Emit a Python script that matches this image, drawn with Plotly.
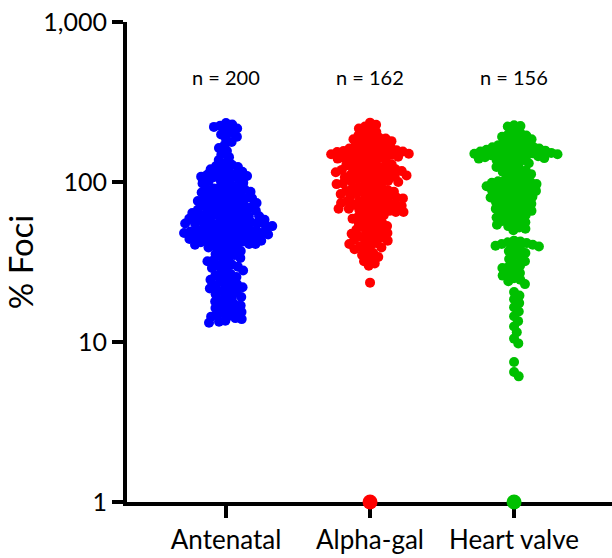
import math
import plotly.graph_objects as go

categories = ["Antenatal", "Alpha-gal", "Heart valve"]
counts_text = ["n = 200", "n = 162", "n = 156"]
colors = ["#0000FF", "#FF0000", "#00C000"]

antenatal = [
    234, 229, 225, 221, 216, 210, 204, 198, 192, 186, 178, 170, 163,
    156, 149, 143, 137, 132,
    128, 126, 124, 122, 120, 118, 116, 114, 112, 111, 110, 109, 108,
    107, 105, 104, 102, 101, 99, 98, 96, 95, 93, 92, 91, 90, 89, 88, 87, 86, 85, 84, 83, 82, 81,
    80, 79, 79, 78, 77, 76, 76, 75, 74, 74, 73, 72, 71, 71, 70, 69, 69, 68, 67, 67, 66, 66, 65, 64, 64,
    63, 63, 62, 62, 61, 61, 60, 60, 59, 59, 58, 58, 57, 57, 57, 56, 56, 55, 55, 55, 54, 54, 53, 53, 53,
    52, 52, 51, 51, 51, 50, 50, 50, 49, 49, 49, 48, 48, 48, 47.5,
    47, 47, 46.5, 46, 46, 45.5, 45, 45, 44.5, 44, 44, 43.5, 43, 43, 42.5, 42, 42, 41.5, 41, 41, 40.5, 40, 40, 39.5, 39,
    38, 37.5, 37, 36, 35.5, 35, 34, 33.5, 33, 32.5, 32, 31, 30.5, 30, 29.5, 29,
    28.5, 28, 27.2, 26.6, 26, 25.5, 25, 24.5, 24, 23.5, 23, 22.6, 22.3, 22,
    21.6, 21.2, 20.8, 20.3, 19.9, 19.5, 19.1, 18.7, 18.3, 17.9, 17.5, 17.2, 16.9, 16.6,
    16.3, 16, 15.7, 15.4, 15.1, 14.8, 14.6, 14.4, 14.1, 13.9, 13.6, 13.4, 13.2,
]

alpha_gal = [
    235, 228, 222, 216, 210, 205,
    200, 196, 192, 189, 187, 185, 182, 180, 178, 175, 172, 170, 168, 166,
    164, 162, 160, 159, 158, 157, 156, 155, 154, 153, 152, 151, 150, 149, 148, 147, 146, 145,
    144, 142, 141, 140, 138, 137, 135, 134,
    132, 130, 129, 127, 126, 125, 123, 122, 121, 120, 119, 118, 117, 116, 115, 114, 113, 112, 111, 110,
    109, 108, 107, 106, 105, 104, 103, 102, 101, 100, 99, 98, 97, 95, 94,
    93, 92, 91, 90, 89, 88, 87, 86, 86, 85, 84, 83, 82, 82, 81, 80, 79, 78, 77,
    76, 76, 75, 74, 74, 73, 72, 72, 71, 70, 70, 69, 68, 68, 67, 66, 66, 65, 65, 64,
    63, 62, 61, 60, 59, 58, 57, 56, 55, 54, 53, 52, 51, 50.5, 50, 49, 48,
    47.5, 47, 46, 45.5, 45, 44, 43.5, 43, 42, 41.5, 41, 40, 39.5, 39,
    38, 37, 36, 35, 34, 33, 32, 31, 30,
    23.5,
    1,
]

heart_valve = [
    226, 224, 222,
    205, 202, 198, 195, 192, 188, 185,
    180, 177, 175, 172, 170, 168, 166, 165, 163, 162, 160, 159, 158, 157, 156, 155, 154, 153, 152, 151,
    150, 149, 148, 147, 146, 145, 144, 143, 142, 141, 140, 139, 137, 135, 133, 131,
    128, 126, 124, 122, 120, 118, 116, 114, 112, 110, 108, 106, 104,
    102, 101, 100, 99, 98, 97, 96, 95, 94, 93, 92, 91, 90, 89, 88, 87, 86, 85, 84, 83, 82, 81, 80, 79, 78,
    77, 76, 75, 74, 73, 72, 71, 70, 69, 68, 67, 66, 65, 64, 63, 62, 61, 60, 59, 58, 57, 56, 55, 54, 53, 52, 51, 50,
    43, 42.5, 42, 41.5, 41, 40.5, 40, 39.5, 39, 38,
    37, 36, 35, 34, 33, 32, 31, 30, 29.5, 29, 28, 27, 26.5, 26, 25, 24.5, 24, 23,
    20.5, 19.5, 18.5, 17.5, 16.5, 15.5, 14.5, 13.5, 12.5, 11.5, 10.5, 9.8,
    7.5, 6.5, 6.1,
    1,
]

groups = [antenatal, alpha_gal, heart_valve]

# layout geometry used to convert swarm offsets (pixels) to data units
W, H = 612, 558
ML, MR, MT, MB = 127, 0, 22, 56
X_RANGE = [-0.6875, 2.68]
PX_PER_X = (W - ML - MR) / (X_RANGE[1] - X_RANGE[0])
PX_PER_DEC = (H - MT - MB) / 3.0
D = 6.4  # collision distance in px (markers overlap a little, as in the reference)


def swarm(values):
    ys = [PX_PER_DEC * math.log10(v) for v in values]
    order = sorted(range(len(values)), key=lambda i: -ys[i])
    placed = []
    offs = [0.0] * len(values)
    for i in order:
        y = ys[i]
        near = [(px, py) for px, py in placed if abs(py - y) < D]
        cands = [0.0]
        for px, py in near:
            dx = math.sqrt(max(D * D - (py - y) ** 2, 0.0))
            cands += [px + dx + 1e-6, px - dx - 1e-6]
        cands.sort(key=abs)
        for c in cands:
            if all((c - px) ** 2 + (y - py) ** 2 >= D * D - 1e-6 for px, py in near):
                offs[i] = c
                break
        placed.append((offs[i], y))
    return offs


fig = go.Figure()
for gi, (vals, col) in enumerate(zip(groups, colors)):
    offs = swarm(vals)
    xs = [gi + o / PX_PER_X for o in offs]
    sizes = [15 if v <= 1 else 10 for v in vals]  # points on the axis are drawn larger
    fig.add_trace(go.Scatter(
        x=xs, y=vals, mode="markers",
        marker=dict(size=sizes, color=col, opacity=1, line=dict(width=0)),
        cliponaxis=False, showlegend=False, hoverinfo="y",
    ))

for gi, t in enumerate(counts_text):
    fig.add_annotation(x=gi, y=(502 - 77) / 480, xref="x", yref="paper", text=t,
                       showarrow=False, yanchor="middle",
                       font=dict(family="Lato", size=20, color="black"))

fig.update_layout(
    width=W, height=H,
    margin=dict(l=ML, r=MR, t=MT, b=MB),
    plot_bgcolor="white", paper_bgcolor="white",
    font=dict(family="Lato", color="black"),
    xaxis=dict(
        range=X_RANGE, tickvals=[0, 1, 2], ticktext=categories,
        showline=True, linewidth=4, linecolor="black", layer="below traces",
        ticks="outside", ticklen=12, tickwidth=4, tickcolor="black",
        showgrid=False, zeroline=False, tickfont=dict(size=26),
        ticklabelstandoff=0, automargin=False,
    ),
    yaxis=dict(
        type="log", range=[0, 3],
        tickvals=[1, 10, 100, 1000], ticktext=["1", "10", "100", "1,000"],
        showline=True, linewidth=4, linecolor="black", layer="below traces",
        ticks="outside", ticklen=11, tickwidth=4, tickcolor="black",
        showgrid=False, zeroline=False, tickfont=dict(size=25),
        title=dict(text="% Foci", font=dict(size=33), standoff=8),
        automargin=False,
    ),
)

fig.write_html("out.html", config={"displayModeBar": False},
               post_script="document.body.style.margin='0';")
